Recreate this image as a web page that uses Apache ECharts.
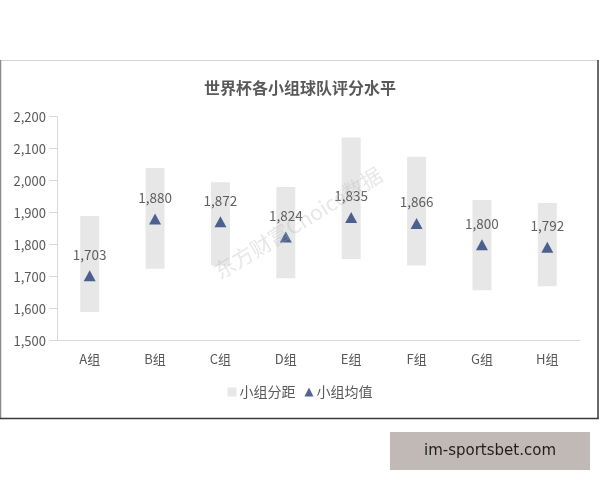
<!DOCTYPE html>
<html>
<head>
<meta charset="utf-8">
<script src="https://cdn.jsdelivr.net/npm/echarts@6/dist/echarts.min.js"></script>
<style>
html,body{margin:0;padding:0;background:#fff;}
#c{width:600px;height:480px;}
</style>
</head>
<body>
<div id="c"></div>
<script>
var categories = ['A组','B组','C组','D组','E组','F组','G组','H组'];
var rangeLow = [1590,1725,1735,1695,1755,1735,1658,1670];
var rangeHigh = [1890,2040,1995,1980,2135,2075,1940,1930];
var meanValues = [1703,1880,1872,1824,1885,1866,1800,1792];
var meanLabels = ['1,703','1,880','1,872','1,824','1,835','1,866','1,800','1,792'];
var yTicks = [1500,1600,1700,1800,1900,2000,2100,2200];

var rangeSpan = rangeHigh.map(function(h,i){return h - rangeLow[i];});
var font = '"Microsoft YaHei","Noto Sans CJK SC",sans-serif';

var chart = echarts.init(document.getElementById('c'), null, {renderer:'canvas'});
chart.setOption({
  animation:false,
  backgroundColor:'#fff',
  textStyle:{fontFamily:font},
  title:{
    text:'世界杯各小组球队评分水平',
    left:'center', top:75,
    textStyle:{fontSize:16, fontWeight:'bold', color:'#595959', fontFamily:font}
  },
  legend:{
    bottom:76, left:'center', itemGap:9, itemWidth:9, itemHeight:9,
    textStyle:{fontSize:14, color:'#595959', fontFamily:font, padding:[0,0,0,-2]},
    data:[{name:'小组分距', icon:'rect'},{name:'小组均值', icon:'triangle'}]
  },
  grid:{left:57, right:20, top:116.7, bottom:139.3, containLabel:false},
  xAxis:{
    type:'category', data:categories,
    axisLine:{lineStyle:{color:'#d9d9d9'}},
    axisTick:{show:false},
    axisLabel:{color:'#595959', fontSize:13, margin:12, fontFamily:font}
  },
  yAxis:{
    type:'value', min:yTicks[0], max:yTicks[yTicks.length-1], interval:100,
    axisLine:{show:true, lineStyle:{color:'#d9d9d9'}},
    axisTick:{show:true, length:8, lineStyle:{color:'#d9d9d9'}},
    splitLine:{show:false},
    axisLabel:{color:'#595959', fontSize:13, margin:11, fontFamily:font,
      formatter:function(v){return v.toLocaleString('en-US');}}
  },
  series:[
    {name:'base', type:'bar', stack:'r', data:rangeLow, barWidth:'29%',
     itemStyle:{color:'rgba(0,0,0,0)'}, silent:true, legendHoverLink:false},
    {name:'小组分距', type:'bar', stack:'r', data:rangeSpan, barWidth:'29%',
     itemStyle:{color:'#e7e7e7'}},
    {name:'小组均值', type:'scatter', data:meanValues, symbol:'triangle',
     symbolSize:[12,11], itemStyle:{color:'#263f7a'}, z:5,
     label:{show:true, position:'top', distance:9, color:'#3a3a3a', fontSize:13.5, fontFamily:font,
       formatter:function(p){return meanLabels[p.dataIndex];}}}
  ],
  graphic:[
    {type:'line', shape:{x1:0, y1:60.5, x2:598, y2:60.5}, style:{stroke:'#d4d4d4', lineWidth:1}},
    {type:'line', shape:{x1:0.5, y1:60, x2:0.5, y2:418}, style:{stroke:'#8a8a8a', lineWidth:1.5}},
    {type:'line', shape:{x1:598, y1:60, x2:598, y2:419}, style:{stroke:'#3a3a3a', lineWidth:1.5}},
    {type:'line', shape:{x1:0, y1:418.5, x2:598.7, y2:418.5}, style:{stroke:'#3a3a3a', lineWidth:1.5}},
    {type:'text', x:298, y:223, rotation:31.5*Math.PI/180, z:100,
     style:{text:'东方财富Choice数据', fill:'rgba(175,175,175,0.3)', font:'21px '+font,
       textAlign:'center', textVerticalAlign:'middle'}},
    {type:'rect', shape:{x:390, y:432, width:200, height:38}, style:{fill:'#c1b9b6'}},
    {type:'text', x:490, y:451, style:{text:'im-sportsbet.com', fill:'#1e1e1e',
       font:'15px "DejaVu Sans",sans-serif', textAlign:'center', textVerticalAlign:'middle'}}
  ]
});
</script>
</body>
</html>
